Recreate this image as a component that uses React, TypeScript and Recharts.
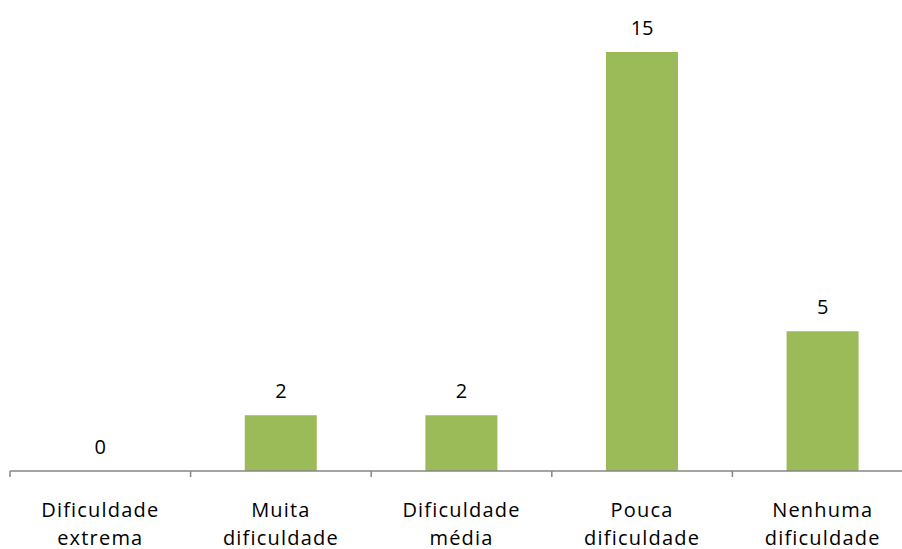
import React from "react";
import { ComposedChart, Bar, Line, XAxis, YAxis, LabelList } from "recharts";

const categories = [
  "Dificuldade extrema",
  "Muita dificuldade",
  "Dificuldade média",
  "Pouca dificuldade",
  "Nenhuma dificuldade",
];
const labelLines = [
  ["Dificuldade", "extrema"],
  ["Muita", "dificuldade"],
  ["Dificuldade", "média"],
  ["Pouca", "dificuldade"],
  ["Nenhuma", "dificuldade"],
];
const values = [0, 2, 2, 15, 5];

const data = categories.map((c, i) => ({ name: c, value: values[i] }));

const CHART_W = 920;
const M_LEFT = 10;
const M_RIGHT = 7;
const BAND = (CHART_W - M_LEFT - M_RIGHT) / categories.length;
const FONT = "'Open Sans', sans-serif";

const Tick = (props: any) => {
  const { x, y, payload } = props;
  const base = y - 8;
  const lines = labelLines[payload.index] || [payload.value];
  const left = x - BAND / 2;
  return (
    <g>
      <line x1={left} y1={base} x2={left} y2={base + 6} stroke="#868686" strokeWidth={1.5} />
      {payload.index === categories.length - 1 && (
        <line x1={x + BAND / 2} y1={base} x2={x + BAND / 2} y2={base + 6} stroke="#868686" strokeWidth={1.5} />
      )}
      {lines.map((l: string, i: number) => (
        <text
          key={i}
          x={x}
          y={base + 46 + i * 28}
          textAnchor="middle"
          fontFamily={FONT}
          fontSize={20}
          letterSpacing={1.2}
          fill="#000"
        >
          {l}
        </text>
      ))}
    </g>
  );
};

export default function App() {
  return (
    <div style={{ position: "absolute", left: 0, top: 0, width: 902, height: 549, overflow: "hidden", background: "#fff" }}>
      <ComposedChart
        width={CHART_W}
        height={549}
        data={data}
        margin={{ top: 24, right: M_RIGHT, bottom: 0, left: M_LEFT }}
        barCategoryGap="30%"
      >
        <XAxis
          dataKey="name"
          height={78}
          interval={0}
          tickLine={false}
          axisLine={{ stroke: "#868686", strokeWidth: 1.5 }}
          tick={<Tick />}
        />
        <YAxis hide domain={[0, 16]} />
        <Bar dataKey="value" fill="#9BBB59" isAnimationActive={false} />
        <Line
          dataKey="value"
          stroke="none"
          dot={false}
          activeDot={false}
          isAnimationActive={false}
        >
          <LabelList
            dataKey="value"
            position="top"
            offset={17}
            fill="#000"
            fontFamily={FONT}
            fontSize={20}
          />
        </Line>
      </ComposedChart>
    </div>
  );
}
